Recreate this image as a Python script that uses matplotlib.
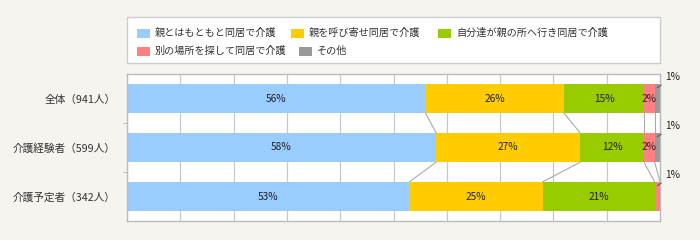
import matplotlib
matplotlib.use("Agg")
import matplotlib.pyplot as plt
import numpy as np
from matplotlib.patches import Rectangle

plt.rcParams['font.family'] = ['Noto Sans CJK JP', 'DejaVu Sans']

groups = ['全体（941人）', '介護経験者（599人）', '介護予定者（342人）']
categories = ['親とはもともと同居で介護', '親を呼び寄せ同居で介護', '自分達が親の所へ行き同居で介護',
              '別の場所を探して同居で介護', 'その他']
colors = ['#99ccff', '#ffcc00', '#99cc00', '#ff8080', '#999999']
values = np.array([
    [56, 26, 15, 2, 1],
    [58, 27, 12, 2, 1],
    [53, 25, 21, 1, 0],
])

BG = '#f5f4ee'
fig = plt.figure(figsize=(7, 2.4), dpi=100, facecolor=BG)
ax = fig.add_axes([127 / 700, 1 - 221 / 240, 533 / 700, 147 / 240])
ax.set_facecolor('white')

bar_h = 0.6
cum = np.cumsum(values, axis=1)
left = cum - values
y = np.arange(len(groups))

for j, cat in enumerate(categories):
    ax.barh(y, values[:, j], left=left[:, j], height=bar_h, color=colors[j], zorder=2)

# segment labels
for i in range(len(groups)):
    for j in range(len(categories)):
        v = values[i, j]
        if v == 0:
            continue
        if v >= 2:
            ax.text(left[i, j] + v / 2, y[i], f'{v}%', ha='center', va='center',
                    fontsize=7.3, color='#222222', zorder=3)
        else:
            ax.annotate(f'{v}%', xy=(left[i, j] + v / 2, y[i] - bar_h / 2 + 0.08),
                        xytext=(left[i, j] + v / 2 + 1.5, y[i] - bar_h / 2 - 0.13),
                        fontsize=7.3, color='#222222', ha='left', va='center',
                        arrowprops=dict(arrowstyle='-', color='#555555', lw=0.7,
                                        shrinkA=1, shrinkB=0),
                        annotation_clip=False, zorder=4)

# connector lines between bars
for i in range(len(groups) - 1):
    for j in range(len(categories) - 1):
        ax.plot([cum[i, j], cum[i + 1, j]], [y[i] + bar_h / 2, y[i + 1] - bar_h / 2],
                color='#aaaaaa', lw=0.8, zorder=1)

ax.set_xlim(0, 100)
ax.set_ylim(len(groups) - 0.5, -0.5)
ax.set_xticks(np.arange(0, 101, 10))
ax.xaxis.grid(True, color='#c8c8c8', lw=0.9, zorder=0)
ax.set_axisbelow(True)
ax.tick_params(axis='x', length=0, labelbottom=False)
ax.set_yticks(y)
ax.set_yticklabels(groups, fontsize=7.7, color='#333333')
ax.set_yticks([0.5, 1.5], minor=True)
ax.tick_params(axis='y', which='major', length=0, pad=8)
ax.tick_params(axis='y', which='minor', length=3, color='#bbbbbb')
for s in ax.spines.values():
    s.set_color('#bbbbbb')
    s.set_linewidth(1.0)

# legend box
W, H = 700, 240
fig.patches.append(Rectangle((127 / W, 1 - 63 / H), 533 / W, 46 / H, transform=fig.transFigure,
                             facecolor='white', edgecolor='#cccccc', lw=1.0))
leg_pos = [(137, 33), (291, 33), (438, 33), (137, 51), (299, 51)]
for (px, py), cat, c in zip(leg_pos, categories, colors):
    fig.patches.append(Rectangle((px / W, 1 - (py + 4.5) / H), 13 / W, 9 / H,
                                 transform=fig.transFigure, facecolor=c, edgecolor='none'))
    fig.text((px + 18) / W, 1 - py / H, cat, fontsize=7.3, color='#333333', va='center', ha='left')

fig.savefig('out.png', dpi=100, facecolor=BG)
